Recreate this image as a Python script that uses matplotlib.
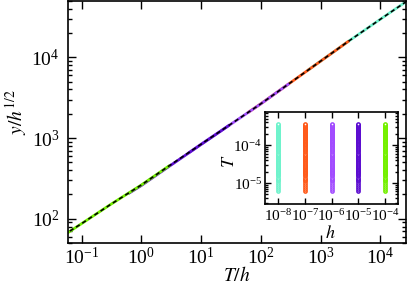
import matplotlib
matplotlib.use("Agg")
import matplotlib.pyplot as plt
from matplotlib.ticker import LogLocator, NullLocator

plt.rcParams['font.family'] = ['Liberation Serif', 'DejaVu Serif']
plt.rcParams['mathtext.fontset'] = 'stix'

# h values and their colours
h_vals = [1e-8, 1e-7, 1e-6, 1e-5, 1e-4]
colors = ['#6ff3cc', '#ff5a1a', '#a24cff', '#5c0dd0', '#74f000']

# main panel: scaled curves y/h^(1/2) against T/h, one per h
x_h8 = [600, 1000, 3000, 10000, 20000, 30000]
y_h8 = [6850, 8960, 16000, 29600, 42100, 51500]
x_h7 = [60, 100, 300, 1000, 2000, 3000]
y_h7 = [2050, 2655, 4740, 8950, 12900, 16000]
x_h6 = [6, 10, 30, 100, 200, 300]
y_h6 = [645, 838, 1448, 2650, 3830, 4742]
x_h5 = [0.6, 1, 3, 10, 20, 30]
y_h5 = [204, 258, 452, 832, 1180, 1452]
x_h4 = [0.055, 0.1, 0.3, 1, 2, 3]
y_h4 = [65, 87, 149, 262, 373, 459]

# dashed reference curve
x_ref = [0.05, 0.1, 0.3, 1, 3, 10, 30, 100, 300, 1000, 3000, 10000, 30000]
y_ref = [63, 87, 149, 262, 459, 839, 1452, 2655, 4742, 8960, 16000, 29600, 51500]

# inset: T grid used for every h (units of 1e-6)
T_grid = [6, 7, 8, 9, 10, 11, 12, 13, 14, 15, 16, 17, 18, 19, 20, 21, 22, 23,
          24, 25, 26, 27, 28, 29, 30, 32, 34, 36, 38, 40, 42, 44, 46, 48, 50,
          52, 54, 56, 58, 60, 65, 70, 75, 80, 85, 90, 95, 100, 105, 110, 115,
          120, 125, 130, 135, 140, 145, 150, 155, 160, 165, 170, 175, 180,
          185, 190, 195, 200, 205, 210, 215, 220, 225, 230, 235, 240, 245,
          250, 255, 260, 265, 270, 275, 280, 285, 290, 295, 300, 305, 310,
          315, 320, 325, 330, 335, 340, 345, 350]

fig = plt.figure(figsize=(4.09, 2.89), dpi=100)
ax = fig.add_axes([0.166, 0.159, 0.827, 0.838])

curves = [(x_h8, y_h8), (x_h7, y_h7), (x_h6, y_h6), (x_h5, y_h5), (x_h4, y_h4)]
for (xs, ys), c in zip(curves, colors):
    ax.plot(xs, ys, color=c, lw=2.0, solid_capstyle='butt')
ax.plot(x_ref, y_ref, color='black', lw=1.2, ls=(0, (2.6, 1.8)))

ax.set_xscale('log')
ax.set_yscale('log')
ax.set_xlim(0.059, 27000)
ax.set_ylim(50, 50000)
ax.xaxis.set_major_locator(LogLocator(base=10, numticks=20))
ax.xaxis.set_minor_locator(NullLocator())
ax.yaxis.set_minor_locator(LogLocator(base=10, subs=range(2, 10), numticks=20))
ax.tick_params(which='both', direction='in', top=True, right=True, width=1)
ax.tick_params(which='major', length=5.5, labelsize=14)
ax.tick_params(which='minor', length=3)
ax.tick_params(axis='x', pad=3)
ax.tick_params(axis='y', pad=6)
for s in ax.spines.values():
    s.set_linewidth(1.2)
ax.set_xlabel(r'$T/h$', fontsize=14, labelpad=-2)
ax.set_ylabel(r'$y/h^{1/2}$', fontsize=14)
ax.yaxis.set_label_coords(-0.115, 0.54)

# inset
ins = fig.add_axes([0.647, 0.294, 0.326, 0.318])
for h, c in zip(h_vals, colors):
    ins.plot([h] * len(T_grid), [t * 1e-6 for t in T_grid], 'o', ls='none',
             ms=2.3, mew=1.1, mec=c, mfc='white')
ins.set_xscale('log')
ins.set_yscale('log')
ins.set_xlim(3.1e-9, 3.1e-4)
ins.set_ylim(2.8e-6, 7.4e-4)
ins.xaxis.set_major_locator(LogLocator(base=10, numticks=20))
ins.xaxis.set_minor_locator(NullLocator())
ins.yaxis.set_minor_locator(LogLocator(base=10, subs=range(2, 10), numticks=20))
ins.tick_params(which='both', direction='in', top=True, right=True, width=1)
ins.tick_params(which='major', length=4, labelsize=11)
ins.tick_params(which='minor', length=2.5)
ins.tick_params(axis='x', pad=3)
ins.tick_params(axis='y', pad=2)
for s in ins.spines.values():
    s.set_linewidth(1.2)
ins.set_xlabel(r'$h$', fontsize=13)
ins.xaxis.set_label_coords(0.49, -0.23)
ins.set_ylabel(r'$T$', fontsize=13)
ins.yaxis.set_label_coords(-0.2, 0.46)

fig.savefig('out.png', dpi=100)
